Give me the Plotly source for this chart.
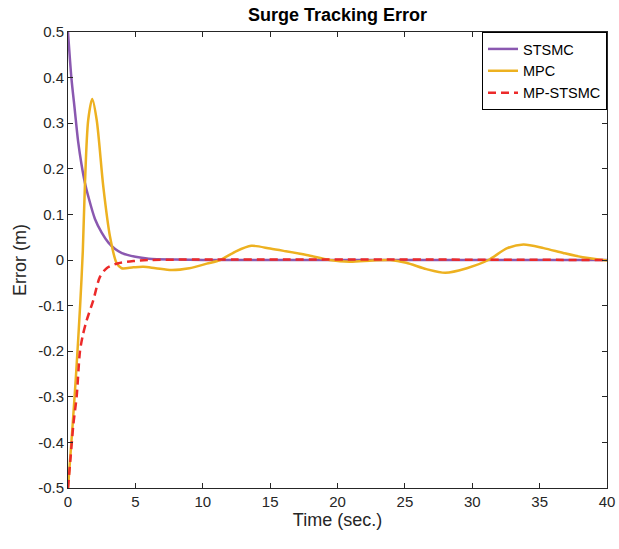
import plotly.graph_objects as go

# STSMC
t_stsmc = [0, 0.25, 0.5, 0.75, 1.0, 1.25, 1.5, 2.0, 2.5, 3.0, 3.5, 4.0, 5.0, 6.0, 8.0, 10.0, 40.0]
e_stsmc = [0.5, 0.40, 0.33, 0.26, 0.21, 0.17, 0.14, 0.09, 0.06, 0.038, 0.024, 0.015, 0.007, 0.003, 0.001, 0.0, 0.0]

# MPC
t_mpc = [0, 0.3, 0.6, 0.9, 1.1, 1.26, 1.5, 1.8, 2.13, 2.62, 3.12, 3.61, 3.98, 4.85, 5.6, 6.5, 7.7,
         9.0, 10.3, 11.3, 12.4, 13.6, 15.0, 16.0, 17.7, 19.4, 20.9, 22.6, 23.9, 25.1, 26.6, 28.0,
         29.6, 31.2, 32.6, 33.8, 35.3, 36.8, 38.2, 40.0]
e_mpc = [-0.5, -0.38, -0.25, -0.10, 0.02, 0.169, 0.307, 0.353, 0.307, 0.161, 0.051, -0.007, -0.018,
         -0.016, -0.015, -0.018, -0.022, -0.018, -0.008, 0.0, 0.018, 0.031, 0.025, 0.020, 0.011, 0.0,
         -0.004, -0.001, 0.0, -0.006, -0.020, -0.028, -0.018, 0.0, 0.026, 0.034, 0.026, 0.015, 0.006, -0.001]

# MP-STSMC
t_mp = [0, 0.2, 0.4, 0.64, 0.89, 1.1, 1.39, 1.88, 2.37, 2.87, 3.74, 4.97, 6.0, 40.0]
e_mp = [-0.5, -0.43, -0.36, -0.30, -0.20, -0.165, -0.132, -0.088, -0.037, -0.018, -0.007, -0.002, 0.0, 0.0]

x_ticks = [0, 5, 10, 15, 20, 25, 30, 35, 40]
y_ticks = [-0.5, -0.4, -0.3, -0.2, -0.1, 0, 0.1, 0.2, 0.3, 0.4, 0.5]
y_ticklabels = ["-0.5", "-0.4", "-0.3", "-0.2", "-0.1", "0", "0.1", "0.2", "0.3", "0.4", "0.5"]

FONT = "Liberation Sans, Arial, sans-serif"

fig = go.Figure()
fig.add_trace(go.Scatter(x=t_stsmc, y=e_stsmc, mode="lines", name="STSMC",
                         line=dict(color="#8A58B0", width=2.5, shape="spline", smoothing=0.8)))
fig.add_trace(go.Scatter(x=t_mpc, y=e_mpc, mode="lines", name="MPC",
                         line=dict(color="#EDB120", width=2.5, shape="spline", smoothing=0.8)))
fig.add_trace(go.Scatter(x=t_mp, y=e_mp, mode="lines", name="MP-STSMC",
                         line=dict(color="#EC2A2A", width=2.5, dash="8px,5px", shape="spline", smoothing=0.8)))

fig.update_layout(
    width=619, height=549,
    margin=dict(l=68, r=12, t=32, b=61, autoexpand=False),
    paper_bgcolor="white", plot_bgcolor="white",
    font=dict(family=FONT, size=15, color="#262626"),
    title=dict(text="<b>Surge Tracking Error</b>", x=0.5, xref="paper", xanchor="center",
               y=1 - 15 / 549, yref="container", yanchor="middle",
               font=dict(family=FONT, size=18, color="black")),
    showlegend=True,
    legend=dict(x=1, y=1, xanchor="right", yanchor="top", bgcolor="white",
                bordercolor="black", borderwidth=1, font=dict(family=FONT, size=14.5, color="black"),
                tracegroupgap=0),
)
fig.update_xaxes(range=[0, 40], tickvals=x_ticks, ticks="inside", ticklen=5, tickcolor="#262626",
                 showline=True, linecolor="#262626", linewidth=1, mirror="ticks", showgrid=False,
                 zeroline=False, automargin=False,
                 title=dict(text="Time (sec.)", font=dict(size=18), standoff=4),
                 tickfont=dict(size=15))
fig.update_yaxes(range=[-0.5, 0.5], tickvals=y_ticks, ticktext=y_ticklabels, ticks="inside", ticklen=5,
                 tickcolor="#262626", showline=True, linecolor="#262626", linewidth=1, mirror="ticks",
                 showgrid=False, zeroline=False, automargin=False,
                 title=dict(text="Error (m)", font=dict(size=18), standoff=6), tickfont=dict(size=15))

fig.write_html("out.html", config={"displayModeBar": False},
               post_script="document.body.style.margin='0';document.body.style.overflow='hidden';")
